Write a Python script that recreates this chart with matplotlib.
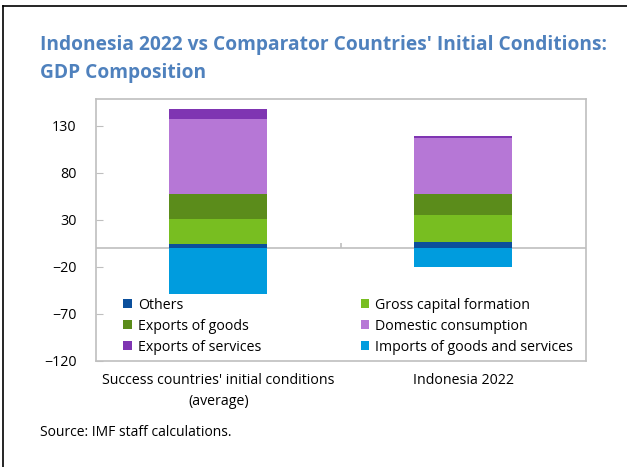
import matplotlib.pyplot as plt
import numpy as np

plt.rcParams['font.family'] = ['Open Sans', 'DejaVu Sans']

# GDP composition, percent of GDP
categories = ["Success countries' initial conditions\n(average)", "Indonesia 2022"]
others = [4, 6.5]
gross_capital = [27, 29]
exports_goods = [26.5, 22]
domestic_consumption = [80, 60]
exports_services = [10.5, 2]
imports = [-49, -20.5]

series = [
    ("Others", others, "#0B4F9C"),
    ("Gross capital formation", gross_capital, "#78BE21"),
    ("Exports of goods", exports_goods, "#5B8C1B"),
    ("Domestic consumption", domestic_consumption, "#B677D6"),
    ("Exports of services", exports_services, "#7F35B2"),
]

fig = plt.figure(figsize=(6.27, 4.67), dpi=100)
ax = fig.add_axes([0.1531, 0.227, 0.7815, 0.561])

x = np.arange(len(categories))
width = 0.4
bottom = np.zeros(len(categories))
bars = {}
for name, vals, color in series:
    bars[name] = ax.bar(x, vals, width, bottom=bottom, color=color, label=name, zorder=2)
    bottom += np.array(vals)
bars["Imports of goods and services"] = ax.bar(x, imports, width, color="#009CDE",
                                               label="Imports of goods and services", zorder=2)

grey = "#BFBFBF"
ax.axhline(0, color=grey, lw=1.2, zorder=1)
ax.vlines(0.5, 0, 5, color=grey, lw=1.2)

ax.set_xlim(-0.5, 1.5)
ax.set_ylim(-120, 158.5)
ax.set_yticks(np.arange(-120, 131, 50))
ax.tick_params(axis='y', direction='in', length=5, color=grey, labelsize=10.3, pad=14)
ax.set_xticks(x)
ax.set_xticklabels(categories, fontsize=10.2, linespacing=1.5)
ax.tick_params(axis='x', length=0, pad=9)
for sp in ax.spines.values():
    sp.set_color(grey)
    sp.set_linewidth(1.2)

order = ["Others", "Exports of goods", "Exports of services",
         "Gross capital formation", "Domestic consumption", "Imports of goods and services"]
ax.legend([bars[k] for k in order], order, ncol=2, loc='center',
          bbox_to_anchor=(0.515, 0.133), frameon=False, fontsize=10.2,
          handlelength=0.6, handleheight=0.6, handletextpad=0.45,
          columnspacing=7.0, labelspacing=0.42)

fig.text(0.064, 0.925, "Indonesia 2022 vs Comparator Countries' Initial Conditions:\nGDP Composition",
         fontsize=13.8, fontweight='bold', color="#4F81BD", va='top', linespacing=1.5)
fig.text(0.064, 0.073, "Source: IMF staff calculations.", fontsize=10, va='center')

# frame lines along the left and top edges
fig.add_artist(plt.Line2D([0.005, 0.005], [0, 0.987], color='black', lw=1.2))
fig.add_artist(plt.Line2D([0.005, 1], [0.987, 0.987], color='black', lw=1.2))

fig.savefig("out.png", dpi=100)
